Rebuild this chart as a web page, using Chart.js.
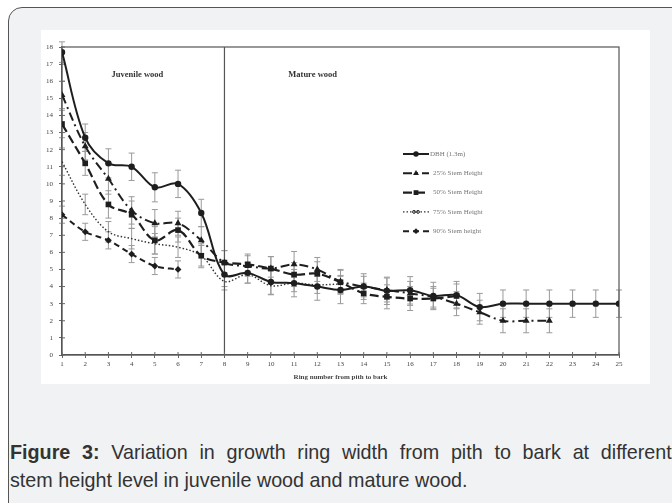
<!DOCTYPE html>
<html>
<head>
<meta charset="utf-8">
<script src="https://cdn.jsdelivr.net/npm/chart.js@4"></script>
<style>
  html, body { margin:0; padding:0; background:#ffffff; width:672px; height:503px; overflow:hidden; }
  #frame { position:absolute; left:8px; top:7px; width:690px; height:520px; border:1.5px solid #555; border-radius:14px; background:#f1f2f4; box-sizing:border-box; }
  #white { position:absolute; left:41px; top:30px; width:609px; height:354px; background:#ffffff; }
  #chartWrap { position:absolute; left:41px; top:30px; width:609px; height:354px; }
  #caption { position:absolute; left:10px; top:438px; width:704px; font-family:"Liberation Sans",Arial,sans-serif; font-size:21px; line-height:28px; color:#333; white-space:nowrap; transform:scaleX(0.94); transform-origin:0 0; }
  #caption .l1 { text-align:justify; text-align-last:justify; white-space:normal; }
</style>
</head>
<body>
<div id="frame"></div>
<div id="white"></div>
<div id="chartWrap"><canvas id="c" width="609" height="354"></canvas></div>
<div id="caption"><div class="l1"><b>Figure 3:</b> Variation in growth ring width from pith to bark at different</div><div>stem height level in juvenile wood and mature wood.</div></div>
<script>
const rings = [1,2,3,4,5,6,7,8,9,10,11,12,13,14,15,16,17,18,19,20,21,22,23,24,25];
const yTicks = [0,1,2,3,4,5,6,7,8,9,10,11,12,13,14,15,16,17,18];
const seriesLabels = ["DBH (1.3m)", "25% Stem Height", "50% Stem Height", "75% Stem Height", "90% Stem height"];
const dbh  = [17.7,12.7,11.2,11.0,9.8,10.0,8.3,4.7,4.8,4.27,4.2,4.0,3.8,4.0,3.75,3.78,3.45,3.5,2.8,3.0,3.0,3.0,3.0,3.0,3.0];
const s25  = [15.2,12.2,10.3,8.45,7.7,7.7,6.7,5.4,5.2,5.05,5.3,5.0,4.3,4.0,3.8,3.6,3.4,3.0,2.5,2.0,2.0,2.0,null,null,null];
const s50  = [13.5,11.2,8.8,8.2,6.7,7.3,5.8,5.4,5.3,5.05,4.7,4.75,4.25,3.6,3.4,3.3,3.3,3.45,null,null,null,null,null,null,null];
const s75  = [11.3,8.8,7.2,6.8,6.5,6.3,5.8,4.3,4.7,4.05,4.2,4.1,4.15,null,null,null,null,null,null,null,null,null,null,null,null];
const s90  = [8.2,7.2,6.7,5.9,5.2,5.0,null,null,null,null,null,null,null,null,null,null,null,null,null,null,null,null,null,null,null];
const dbhErr = [0.6,0.8,0.85,0.8,0.85,0.8,0.8,0.7,0.6,0.75,0.8,0.8,0.8,0.75,0.8,0.8,0.8,0.8,0.8,0.8,0.8,0.8,0.8,0.8,0.8];
const s25Err = [0.8,0.8,0.9,0.8,0.8,0.7,0.8,0.7,0.6,0.7,0.75,0.7,0.7,0.6,0.7,0.7,0.6,0.7,0.7,0.7,0.7,0.7];
const s50Err = [0.8,0.7,0.8,0.8,0.8,0.7,0.7,0.7,0.6,0.7,0.7,0.7,0.7,0.6,0.7,0.7,0.6,0.7];
const s75Err = [0.8,0.6,0.6,0.6,0.6,0.6,0.6,0.5,0.5,0.5,0.5,0.5,0.5];
const s90Err = [0.5,0.5,0.5,0.5,0.5,0.5];
const regionLabels = [{text:"Juvenile wood", x:4.25, y:16.4}, {text:"Mature wood", x:11.8, y:16.4}];
const boundaryRing = 8;

const toPts = (vals) => rings.map((r,i) => ({x:r, y: (vals[i]===undefined ? null : vals[i])}));
const ink = '#1e1e1e';
const datasets = [
  {label:seriesLabels[0], data:toPts(dbh), err:dbhErr, borderColor:ink, backgroundColor:ink, borderWidth:2, borderDash:[], pointStyle:'circle', pointRadius:3.2},
  {label:seriesLabels[1], data:toPts(s25), err:s25Err, borderColor:ink, backgroundColor:ink, borderWidth:2, borderDash:[9,4,2,4], pointStyle:'triangle', pointRadius:4},
  {label:seriesLabels[2], data:toPts(s50), err:s50Err, borderColor:ink, backgroundColor:ink, borderWidth:2.2, borderDash:[9,4], pointStyle:'rect', pointRadius:4},
  {label:seriesLabels[3], data:toPts(s75), err:s75Err, borderColor:'#333', backgroundColor:'#333', borderWidth:1.4, borderDash:[1.5,2], pointStyle:'circle', pointRadius:0},
  {label:seriesLabels[4], data:toPts(s90), err:s90Err, borderColor:ink, backgroundColor:ink, borderWidth:2, borderDash:[6,4], pointStyle:'rectRot', pointRadius:3.4}
].map(d => Object.assign(d, {tension:0.35, spanGaps:false, pointBorderWidth:0, fill:false}));

const decor = {
  id:'decor',
  beforeDatasetsDraw(chart){
    const {ctx, chartArea:a, scales:{x, y}} = chart;
    ctx.save();
    ctx.strokeStyle = '#9a9a9a'; ctx.lineWidth = 1;
    chart.data.datasets.forEach(ds => {
      ds.data.forEach((p,i) => {
        if (p.y === null || ds.err[i] === undefined) return;
        const px = x.getPixelForValue(p.x);
        const y1 = y.getPixelForValue(p.y + ds.err[i]);
        const y2 = y.getPixelForValue(p.y - ds.err[i]);
        ctx.beginPath();
        ctx.moveTo(px, y1); ctx.lineTo(px, y2);
        ctx.moveTo(px-3, y1); ctx.lineTo(px+3, y1);
        ctx.moveTo(px-3, y2); ctx.lineTo(px+3, y2);
        ctx.stroke();
      });
    });
    ctx.strokeStyle = '#555'; ctx.lineWidth = 1.2;
    ctx.strokeRect(a.left, a.top, a.right - a.left, a.bottom - a.top);
    const bx = x.getPixelForValue(boundaryRing);
    ctx.beginPath(); ctx.moveTo(bx, a.top); ctx.lineTo(bx, a.bottom); ctx.stroke();
    ctx.strokeStyle = '#666'; ctx.lineWidth = 1;
    yTicks.forEach(v => { const py = y.getPixelForValue(v); ctx.beginPath(); ctx.moveTo(a.left, py); ctx.lineTo(a.left+3, py); ctx.stroke(); });
    rings.forEach(v => { const px = x.getPixelForValue(v); ctx.beginPath(); ctx.moveTo(px, a.bottom); ctx.lineTo(px, a.bottom-3); ctx.stroke(); });
    ctx.fillStyle = '#333';
    ctx.font = 'bold 8.5px "Liberation Serif", "DejaVu Serif", serif';
    ctx.textAlign = 'center'; ctx.textBaseline = 'middle';
    regionLabels.forEach(r => ctx.fillText(r.text, x.getPixelForValue(r.x), y.getPixelForValue(r.y)));
    ctx.restore();
  },
  afterDatasetsDraw(chart){
    const {ctx} = chart;
    ctx.save();
    const lx = 362, tx = 389, y0 = 124, dy = 19.3;
    chart.data.datasets.forEach((ds, i) => {
      const yy = y0 + i*dy;
      ctx.strokeStyle = ds.borderColor; ctx.lineWidth = ds.borderWidth;
      ctx.setLineDash(ds.borderDash);
      ctx.beginPath(); ctx.moveTo(lx, yy); ctx.lineTo(lx+26, yy); ctx.stroke();
      ctx.setLineDash([]);
      if (ds.pointRadius > 0) {
        ctx.fillStyle = ds.backgroundColor;
        Chart.helpers.drawPoint(ctx, {pointStyle: ds.pointStyle, radius: ds.pointRadius*0.85, borderWidth:0}, lx+13, yy);
      } else {
        ctx.lineWidth = 1; ctx.strokeStyle = '#333';
        ctx.beginPath(); ctx.arc(lx+11, yy, 1.5, 0, Math.PI*2); ctx.stroke();
        ctx.beginPath(); ctx.arc(lx+15, yy, 1.5, 0, Math.PI*2); ctx.stroke();
      }
      ctx.fillStyle = '#777';
      ctx.font = '7px "Liberation Serif", "DejaVu Serif", serif';
      ctx.textAlign = 'left'; ctx.textBaseline = 'middle';
      ctx.fillText(ds.label, i === 0 ? tx : tx + 3, yy);
    });
    ctx.restore();
  }
};

new Chart(document.getElementById('c'), {
  type:'line',
  data:{ datasets },
  options:{
    responsive:false, animation:false, events:[],
    layout:{ padding:{ top:17, right:31, left:0, bottom:0 } },
    plugins:{ legend:{display:false}, tooltip:{enabled:false} },
    scales:{
      x:{ type:'linear', min:1, max:25,
          afterFit(s){ s.height = 29; },
          ticks:{ stepSize:1, autoSkip:false, color:'#444', padding:2, maxRotation:0,
                  font:{family:'"Liberation Serif", "DejaVu Serif", serif', size:7} },
          grid:{ drawOnChartArea:false, tickLength:3, color:'#666' },
          border:{ color:'#555', width:1.2 },
          title:{ display:true, text:'Ring number from pith to bark', color:'#444',
                  font:{family:'"Liberation Serif", "DejaVu Serif", serif', size:7, weight:'bold'},
                  padding:{top:0, bottom:3} } },
      y:{ min:0, max:18,
          afterFit(s){ s.width = 21; },
          ticks:{ stepSize:1, autoSkip:false, color:'#444', padding:6,
                  font:{family:'"Liberation Serif", "DejaVu Serif", serif', size:7} },
          grid:{ drawOnChartArea:false, tickLength:3, color:'#666' },
          border:{ color:'#555', width:1.2 } }
    }
  },
  plugins:[decor]
});
</script>
</body>
</html>
